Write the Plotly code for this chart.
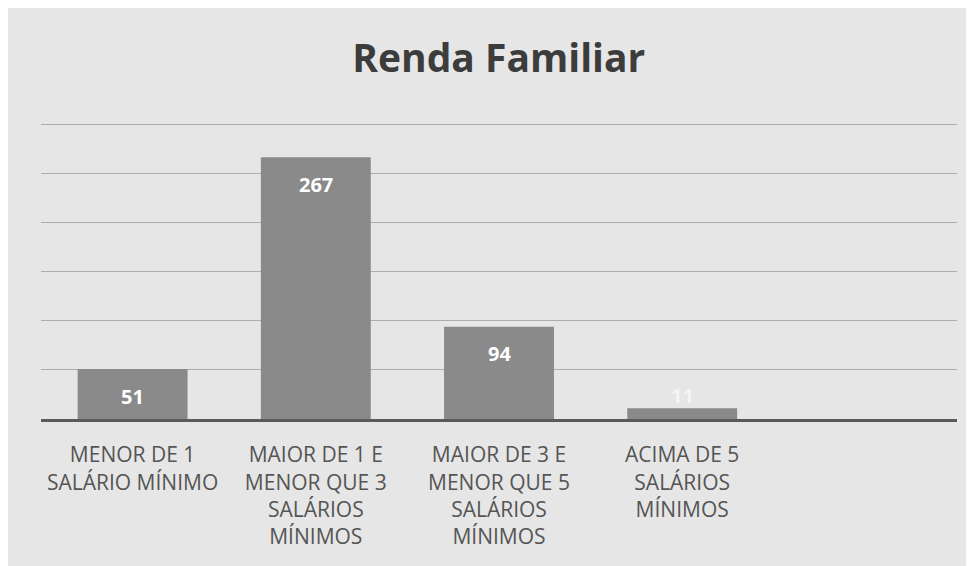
import plotly.graph_objects as go

categories = [
    "MENOR DE 1<br>SALÁRIO MÍNIMO",
    "MAIOR DE 1 E<br>MENOR QUE 3<br>SALÁRIOS<br>MÍNIMOS",
    "MAIOR DE 3 E<br>MENOR QUE 5<br>SALÁRIOS<br>MÍNIMOS",
    "ACIMA DE 5<br>SALÁRIOS<br>MÍNIMOS",
]
values = [51, 267, 94, 11]
title_text = "Renda Familiar"

FONT = "Open Sans"

fig = go.Figure()
fig.add_trace(go.Bar(
    x=categories, y=values,
    marker=dict(color="#8a8a8a", line=dict(width=0)),
    width=0.6,
    hoverinfo="skip",
))

for c, v in zip(categories, values):
    big = v > 30
    fig.add_annotation(
        x=c, y=v, text=f"<b>{v}</b>", showarrow=False,
        yanchor="middle", xanchor="center",
        yshift=-27 if big else 13,
        font=dict(family=FONT, size=20, color="#ffffff" if big else "#f4f4f4"),
    )

fig.update_layout(
    width=966, height=558,
    margin=dict(l=33, r=17, t=112, b=147),
    paper_bgcolor="#e6e6e6",
    plot_bgcolor="rgba(0,0,0,0)",
    showlegend=False,
    title=dict(
        text=f"<b>{title_text}</b>",
        x=0.508, xanchor="center", y=0.909, yanchor="middle",
        font=dict(family=FONT, size=39, color="#3c3c3c"),
    ),
    xaxis=dict(
        type="category",
        range=[-0.5, 4.5],
        showgrid=False,
        showline=True, linecolor="#5a5a5a", linewidth=3,
        ticks="outside", ticklen=15, tickcolor="rgba(0,0,0,0)",
        tickfont=dict(family=FONT, size=21, color="#555555"),
        tickangle=0,
        zeroline=False,
    ),
    yaxis=dict(
        range=[0, 305],
        tickvals=[50, 100, 150, 200, 250, 300],
        showgrid=True, gridcolor="#adadad", gridwidth=1,
        showticklabels=False,
        zeroline=False,
        showline=False,
    ),
    bargap=0.4,
)

fig.write_html("out.html")
